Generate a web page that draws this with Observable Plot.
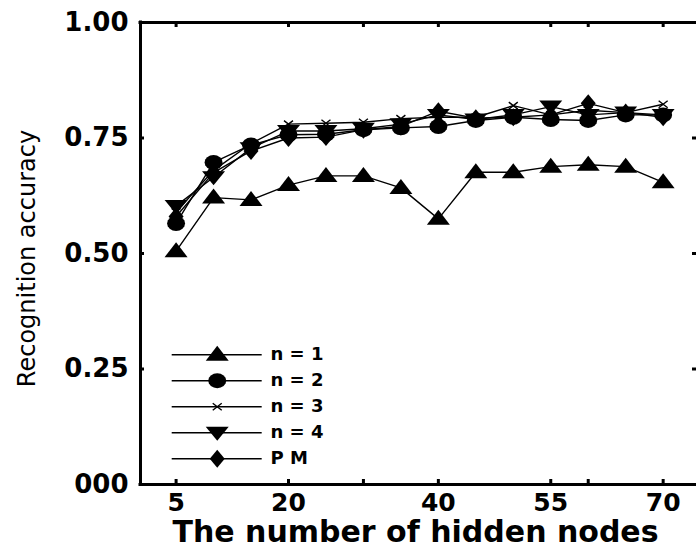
<!DOCTYPE html>
<html><head><meta charset="utf-8">
<script src="https://cdn.jsdelivr.net/npm/d3@7"></script>
<script src="https://cdn.jsdelivr.net/npm/@observablehq/plot@0.6"></script>
<style>html,body{margin:0;padding:0;background:#fff;} #chart{width:696px;height:553px;overflow:hidden}</style>
</head><body><div id="chart"></div>
<script>
// ---- data ----
const hiddenNodes = [5,10,15,20,25,30,35,40,45,50,55,60,65,70];
const n1 = [0.505,0.621,0.616,0.648,0.668,0.668,0.642,0.575,0.676,0.676,0.688,0.692,0.688,0.654];
const n2 = [0.565,0.697,0.735,0.757,0.758,0.768,0.772,0.775,0.788,0.795,0.790,0.788,0.800,0.800];
const n3 = [0.590,0.680,0.738,0.780,0.782,0.784,0.792,0.795,0.795,0.820,0.800,0.810,0.805,0.823];
const n4 = [0.603,0.665,0.728,0.765,0.765,0.770,0.780,0.800,0.790,0.800,0.818,0.800,0.805,0.800];
const pm = [0.580,0.675,0.722,0.750,0.752,0.768,0.775,0.808,0.793,0.795,0.800,0.825,0.805,0.795];
const seriesNames = ["n = 1","n = 2","n = 3","n = 4","P M"];
const seriesValues = [n1,n2,n3,n4,pm];
const xTicks = [5,20,30,40,55,60,70];
const xTickLabels = [5,20,40,55,70];
const yTicks = [0,0.25,0.5,0.75,1];
const yTickLabels = ["000","0.25","0.50","0.75","1.00"];

// ---- symbols ----
const triUp = {draw(c){c.moveTo(0,-9);c.lineTo(11.5,6);c.lineTo(-11.5,6);c.closePath();}};
const triDown = {draw(c){c.moveTo(0,8);c.lineTo(11.5,-6);c.lineTo(-11.5,-6);c.closePath();}};
const ellipse = {draw(c){const n=16;for(let k=0;k<n;k++){const a=2*Math.PI*k/n;const px=9*Math.cos(a),py=7.5*Math.sin(a);k?c.lineTo(px,py):c.moveTo(px,py);}c.closePath();}};
const diamond = {draw(c){c.moveTo(0,-9);c.lineTo(7.5,0);c.lineTo(0,9);c.lineTo(-7.5,0);c.closePath();}};
const cross = {draw(c){c.moveTo(-4.5,-3.5);c.lineTo(4.5,3.5);c.moveTo(-4.5,3.5);c.lineTo(4.5,-3.5);}};
const symbols = [triUp, ellipse, cross, triDown, diamond];

const rows = [];
seriesNames.forEach((s,i)=>hiddenNodes.forEach((x,j)=>rows.push({series:s,idx:i,x,y:seriesValues[i][j]})));

// legend layout (frame-relative, in data units)
const legend = seriesNames.map((s,i)=>({series:s,idx:i,y:0.281-i*0.0563}));
const legX1 = 4.48, legX2 = 16.49, legXm = 10.49, legXt = 17.6;

const font = "DejaVu Sans";
const marks = [
  Plot.line(rows,{x:"x",y:"y",z:"series",stroke:"black",strokeWidth:1.4}),
];
symbols.forEach((sym,i)=>{
  const filled = sym !== cross;
  marks.push(Plot.dot(rows.filter(d=>d.idx===i),{x:"x",y:"y",symbol:sym,fill:filled?"black":"none",stroke:filled?"none":"black",strokeWidth:1.4}));
});
// legend
marks.push(Plot.ruleY(legend,{y:"y",x1:legX1,x2:legX2,stroke:"black",strokeWidth:1.4}));
symbols.forEach((sym,i)=>{
  const filled = sym !== cross;
  marks.push(Plot.dot(legend.filter(d=>d.idx===i),{x:legXm,y:"y",symbol:sym,fill:filled?"black":"none",stroke:filled?"none":"black",strokeWidth:1.4}));
});
marks.push(Plot.text(legend,{x:legXt,y:"y",text:"series",textAnchor:"start",fontSize:18,fontWeight:"bold",fontFamily:font,fill:"black"}));
// frame
marks.push(Plot.ruleX([0.25],{stroke:"black",strokeWidth:3,strokeLinecap:"square"}));
marks.push(Plot.ruleY([0,1],{stroke:"black",strokeWidth:3,strokeLinecap:"square"}));
// inward ticks
marks.push(Plot.tickX(xTicks,{x:d=>d,insetTop:457,stroke:"black",strokeWidth:3}));
marks.push(Plot.tickX(xTicks,{x:d=>d,insetBottom:457,stroke:"black",strokeWidth:3}));
marks.push(Plot.tickY(yTicks.slice(1,4),{y:d=>d,insetRight:552,stroke:"black",strokeWidth:3}));
marks.push(Plot.tickY(yTicks.slice(1,4),{y:d=>d,insetLeft:552,stroke:"black",strokeWidth:3}));
// tick labels
marks.push(Plot.text(yTicks,{y:d=>d,text:(d,i)=>yTickLabels[i],frameAnchor:"left",textAnchor:"end",dx:-12,fontSize:26,fontWeight:"bold",fontFamily:font,fill:"black"}));
marks.push(Plot.text(xTickLabels,{x:d=>d,text:d=>String(d),frameAnchor:"bottom",lineAnchor:"top",dy:9,fontSize:25,fontWeight:"bold",fontFamily:font,fill:"black"}));
// axis titles
marks.push(Plot.text(["The number of hidden nodes"],{text:d=>d,frameAnchor:"bottom",lineAnchor:"top",dy:36,dx:-3,fontSize:30,fontWeight:"bold",fontFamily:font,fill:"black"}));
marks.push(Plot.text(["Recognition accuracy"],{text:d=>d,frameAnchor:"left",textAnchor:"middle",rotate:-90,dx:-113,dy:5,fontSize:24,fontFamily:font,fill:"black"}));

const chart = Plot.plot({
  width:696, height:553,
  marginLeft:140, marginRight:0, marginTop:22, marginBottom:69,
  x:{domain:[0.25,74.45],axis:null},
  y:{domain:[0,1],axis:null},
  style:{background:"white",overflow:"visible"},
  marks
});
document.getElementById("chart").appendChild(chart);
</script>
</body></html>
